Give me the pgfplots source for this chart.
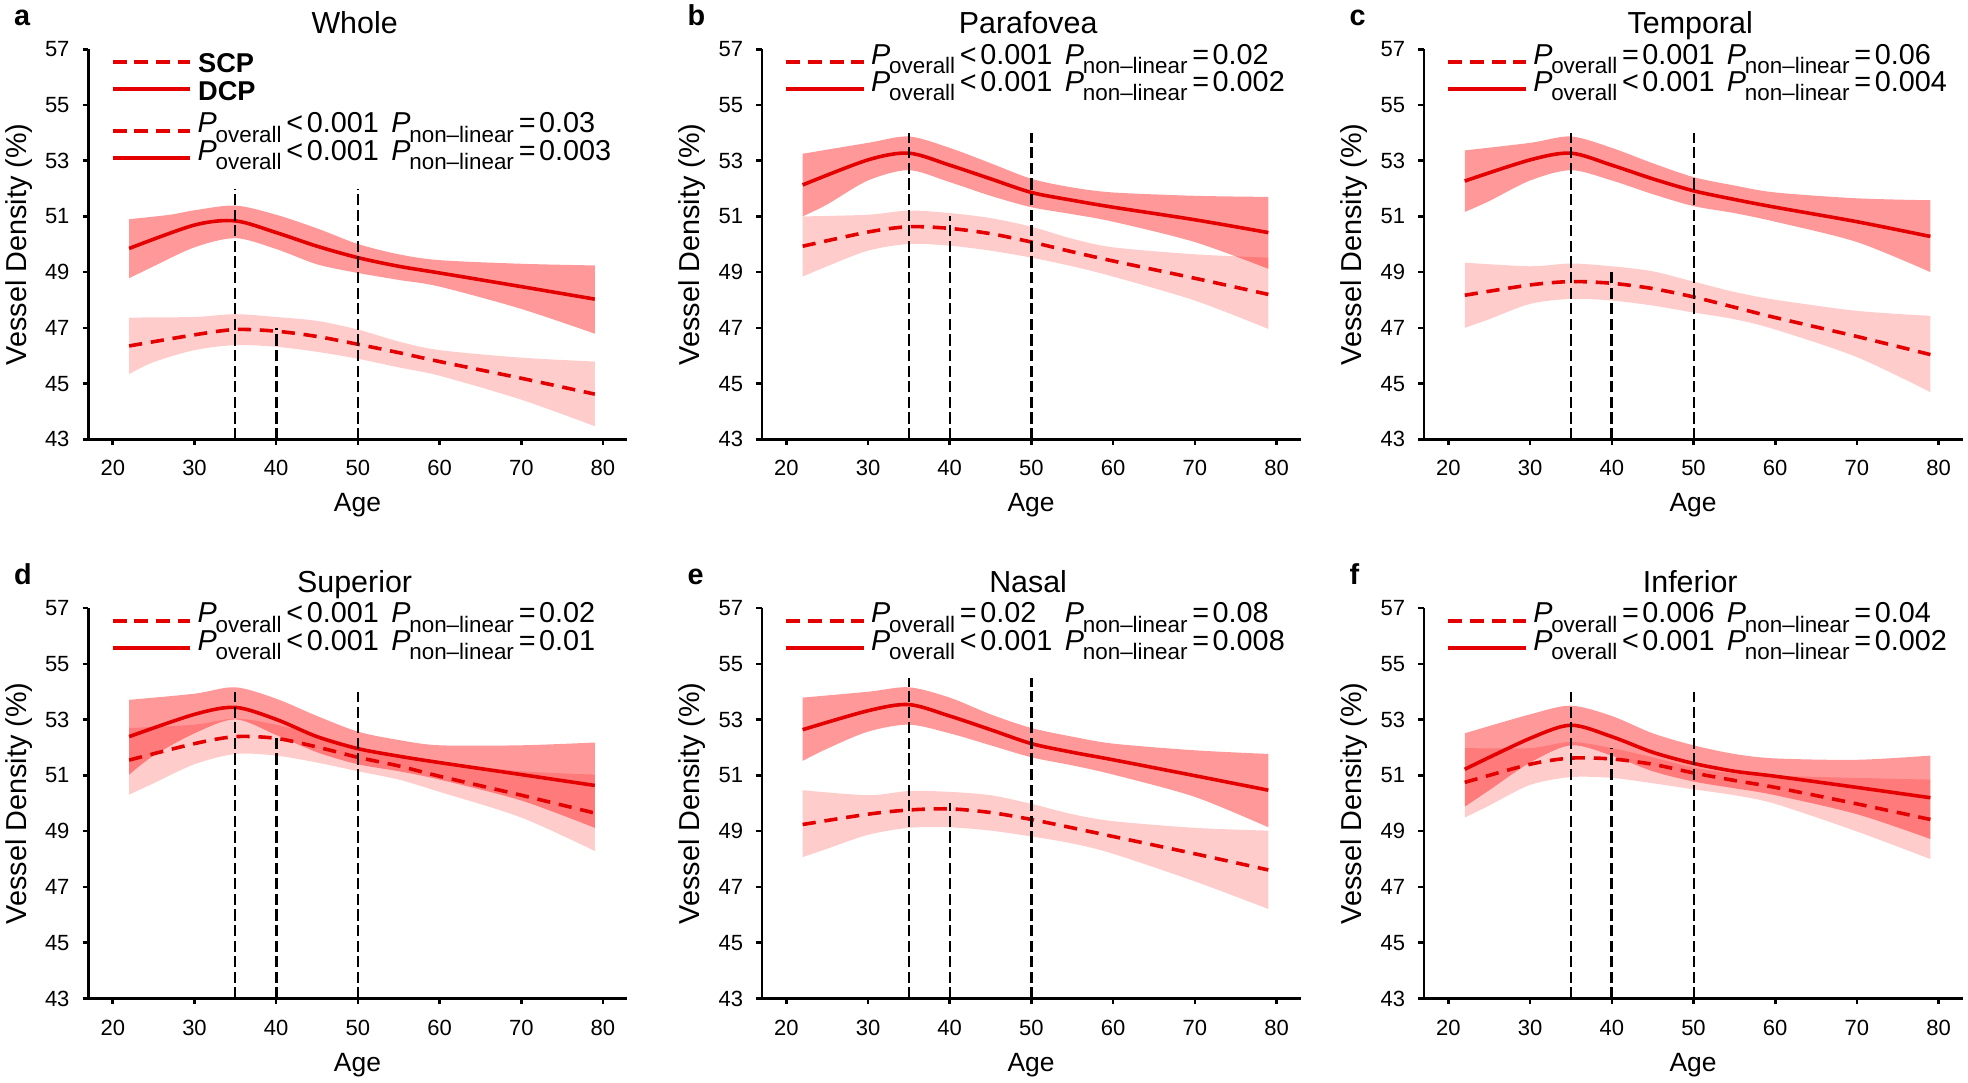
\documentclass[border=0pt]{standalone}
\usepackage{pgfplots}
\pgfplotsset{compat=1.18}
\usepgfplotslibrary{fillbetween}
\usepackage{fontspec}
\setmainfont{Liberation Sans}
\definecolor{vd}{RGB}{228,0,0}
\newcommand\lgfont{\fontsize{7.2}{8}\selectfont}
\newcommand\subs[1]{\kern-0.3pt\raisebox{-2.3pt}{\fontsize{5.6}{6}\selectfont #1}}
\newcommand\Po[2]{{\lgfont\textit{P}\subs{overall}\hspace{1.2pt}#1\hspace{0.9pt}#2}}
\newcommand\Pn[2]{{\lgfont\textit{P}\subs{non–linear}\hspace{1.2pt}#1\hspace{0.9pt}#2}}
\newcommand\lrow[4]{\draw[#2] (axis cs:20,#1) -- (axis cs:29.47,#1);
  \node[anchor=base west, inner sep=0pt] at (axis cs:30.29,#1-0.083) {#3};
  \node[anchor=base west, inner sep=0pt] at (axis cs:54.0,#1-0.083) {#4};}
\newcommand\deco[2]{% letter, title
  \node[anchor=base west, inner sep=0pt, font=\bfseries\fontsize{7.2}{8}\selectfont] at (axis cs:7.82,57.86) {#1};
  \node[anchor=base, inner sep=0pt, font=\fontsize{7.6}{9}\selectfont] at (axis cs:49.6,57.57) {#2};
  \node[anchor=base, inner sep=0pt, font=\fontsize{6.6}{7}\selectfont] at (axis cs:49.95,40.4) {Age};
  \node[anchor=base, rotate=90, inner sep=0pt, font=\fontsize{7.2}{8}\selectfont] at (axis cs:9.4,50) {Vessel Density (\%)};}
\pgfplotsset{
  panel/.style={
    scale only axis, width=134.8pt,
    xmin=17, xmax=83, ymin=43, ymax=57,
    axis x line*=bottom, axis y line*=left,
    axis line style={line width=0.65pt, -},
    xtick={20,30,...,80}, ytick={43,45,...,57},
    tick align=outside, major tick length=1.4pt,
    tick style={line width=0.65pt, black},
    tick label style={font=\fontsize{5.5}{6}\selectfont, inner sep=0pt},
    xticklabel style={anchor=north, yshift=-3.7pt},
    yticklabel style={anchor=east, xshift=-3.1pt},
    /pgf/number format/assume math mode=true,
    clip=false, anchor=south west,
  },
  bnd/.style={draw=none, mark=none, smooth},
  dcpf/.style={fill=red, fill opacity=0.4, draw=none},
  scpf/.style={fill=red, fill opacity=0.2, draw=none},
  dcpl/.style={vd, line width=0.9pt, mark=none, smooth},
  scpl/.style={vd, line width=0.9pt, mark=none, smooth, dash pattern=on 3.3pt off 2.2pt},
  vl/.style={black, line width=0.5pt, mark=none, dash pattern=on 2.8pt off 1.1pt},
  vlt/.style={black, line width=0.8pt, mark=none, dash pattern=on 2.8pt off 1.1pt},
}
\tikzset{
  ldash/.style={vd, line width=1pt, dash pattern=on 3.5pt off 1.9pt},
  lsolid/.style={vd, line width=1pt},
}
\begin{document}
\begin{tikzpicture}
% ---------------- a: Whole
\begin{axis}[panel, at={(22.07pt,160.68pt)}, height=97.5pt]
\addplot[bnd, name path=du] coordinates {(22,50.9)(27,51.06)(30,51.22)(35,51.39)(40,51.06)(45,50.57)(50,50.01)(55,49.64)(60,49.43)(70,49.30)(79,49.24)};
\addplot[bnd, name path=dl] coordinates {(22,48.78)(25,49.21)(30,49.89)(35,50.22)(40,49.83)(45,49.28)(50,48.97)(55,48.72)(60,48.48)(70,47.68)(79,46.79)};
\addplot[dcpf] fill between[of=du and dl];
\addplot[bnd, name path=su] coordinates {(22,47.37)(30,47.39)(35,47.49)(40,47.39)(45,47.25)(50,46.94)(55,46.51)(60,46.20)(70,45.93)(79,45.79)};
\addplot[bnd, name path=sl] coordinates {(22,45.34)(25,45.77)(30,46.20)(35,46.38)(40,46.32)(45,46.14)(50,45.89)(55,45.58)(60,45.28)(70,44.42)(79,43.47)};
\addplot[scpf] fill between[of=su and sl];
\addplot[dcpl] coordinates {(22,49.85)(30,50.69)(35,50.84)(40,50.42)(45,49.93)(50,49.52)(55,49.21)(60,48.97)(70,48.48)(79,48.03)};
\addplot[scpl] coordinates {(22,46.35)(30,46.75)(35,46.94)(40,46.88)(45,46.69)(50,46.41)(55,46.11)(60,45.79)(70,45.19)(79,44.62)};
\addplot[vl] coordinates {(35,43)(35,52)};
\addplot[vlt] coordinates {(40,43)(40,47)};
\addplot[vl] coordinates {(50,43)(50,52)};
\draw[ldash] (axis cs:20,56.55) -- (axis cs:29.47,56.55);
\node[anchor=base west, inner sep=0pt, font=\bfseries\fontsize{6.8}{8}\selectfont] at (axis cs:30.35,56.16) {SCP};
\draw[lsolid] (axis cs:20,55.56) -- (axis cs:29.47,55.56);
\node[anchor=base west, inner sep=0pt, font=\bfseries\fontsize{6.8}{8}\selectfont] at (axis cs:30.35,55.17) {DCP};
\lrow{54.08}{ldash}{\Po{<}{0.001}}{\Pn{=}{0.03}}
\lrow{53.09}{lsolid}{\Po{<}{0.001}}{\Pn{=}{0.003}}
\deco{a}{Whole}
\end{axis}
% ---------------- b: Parafovea
\begin{axis}[panel, at={(190.45pt,160.68pt)}, height=97.5pt]
\addplot[bnd, name path=du] coordinates {(22,53.25)(30,53.64)(35,53.87)(40,53.46)(45,52.91)(50,52.35)(55,52.04)(60,51.86)(70,51.74)(79,51.70)};
\addplot[bnd, name path=dl] coordinates {(22,51.0)(25,51.43)(30,52.29)(35,52.66)(40,52.23)(45,51.74)(50,51.33)(55,51.08)(60,50.81)(70,50.08)(79,49.12)};
\addplot[dcpf] fill between[of=du and dl];
\addplot[bnd, name path=su] coordinates {(22,51.0)(30,51.06)(35,51.21)(40,51.12)(45,50.94)(50,50.63)(55,50.20)(60,49.89)(70,49.64)(79,49.52)};
\addplot[bnd, name path=sl] coordinates {(22,48.84)(25,49.21)(30,49.77)(35,50.01)(40,49.95)(45,49.77)(50,49.52)(55,49.21)(60,48.84)(70,47.98)(79,46.96)};
\addplot[scpf] fill between[of=su and sl];
\addplot[dcpl] coordinates {(22,52.13)(30,53.03)(35,53.27)(40,52.84)(45,52.35)(50,51.86)(55,51.58)(60,51.33)(70,50.88)(79,50.42)};
\addplot[scpl] coordinates {(22,49.93)(30,50.44)(35,50.63)(40,50.57)(45,50.38)(50,50.08)(55,49.73)(60,49.40)(70,48.78)(79,48.20)};
\addplot[vl] coordinates {(35,43)(35,54)};
\addplot[vl] coordinates {(40,43)(40,51)};
\addplot[vlt] coordinates {(50,43)(50,54)};
\lrow{56.55}{ldash}{\Po{<}{0.001}}{\Pn{=}{0.02}}
\lrow{55.56}{lsolid}{\Po{<}{0.001}}{\Pn{=}{0.002}}
\deco{b}{Parafovea}
\end{axis}
% ---------------- c: Temporal
\begin{axis}[panel, at={(355.97pt,160.68pt)}, height=97.5pt]
\addplot[bnd, name path=du] coordinates {(22,53.37)(30,53.64)(35,53.87)(40,53.46)(45,52.91)(50,52.41)(55,52.11)(60,51.86)(70,51.65)(79,51.58)};
\addplot[bnd, name path=dl] coordinates {(22,51.16)(25,51.55)(30,52.29)(35,52.66)(40,52.29)(45,51.80)(50,51.37)(55,51.12)(60,50.81)(70,50.08)(79,49.0)};
\addplot[dcpf] fill between[of=du and dl];
\addplot[bnd, name path=su] coordinates {(22,49.34)(30,49.21)(35,49.31)(40,49.21)(45,49.03)(50,48.66)(55,48.29)(60,48.01)(70,47.61)(79,47.43)};
\addplot[bnd, name path=sl] coordinates {(22,47.0)(25,47.31)(30,47.86)(35,48.04)(40,47.98)(45,47.80)(50,47.55)(55,47.31)(60,46.94)(70,45.95)(79,44.69)};
\addplot[scpf] fill between[of=su and sl];
\addplot[dcpl] coordinates {(22,52.27)(30,53.03)(35,53.27)(40,52.84)(45,52.35)(50,51.92)(55,51.61)(60,51.33)(70,50.81)(79,50.28)};
\addplot[scpl] coordinates {(22,48.17)(30,48.54)(35,48.66)(40,48.60)(45,48.41)(50,48.11)(55,47.74)(60,47.37)(70,46.69)(79,46.04)};
\addplot[vl] coordinates {(35,43)(35,54)};
\addplot[vlt] coordinates {(40,43)(40,49)};
\addplot[vl] coordinates {(50,43)(50,54)};
\lrow{56.55}{ldash}{\Po{=}{0.001}}{\Pn{=}{0.06}}
\lrow{55.56}{lsolid}{\Po{<}{0.001}}{\Pn{=}{0.004}}
\deco{c}{Temporal}
\end{axis}
% ---------------- d: Superior
\begin{axis}[panel, at={(22.07pt,20.875pt)}, height=97.6pt]
\addplot[bnd, name path=du] coordinates {(22,53.71)(30,53.93)(35,54.16)(40,53.75)(45,53.13)(50,52.57)(55,52.27)(60,52.08)(70,52.08)(79,52.18)};
\addplot[bnd, name path=dl] coordinates {(22,51.03)(25,51.71)(30,52.51)(35,53.01)(40,52.45)(45,51.83)(50,51.40)(55,51.15)(60,50.85)(70,50.10)(79,49.12)};
\addplot[dcpf] fill between[of=du and dl];
\addplot[bnd, name path=su] coordinates {(22,52.70)(30,52.82)(35,53.04)(40,52.82)(45,52.45)(50,52.02)(55,51.65)(60,51.46)(70,51.15)(79,51.03)};
\addplot[bnd, name path=sl] coordinates {(22,50.31)(25,50.72)(30,51.40)(35,51.77)(40,51.71)(45,51.46)(50,51.15)(55,50.85)(60,50.41)(70,49.49)(79,48.29)};
\addplot[scpf] fill between[of=su and sl];
\addplot[dcpl] coordinates {(22,52.39)(30,53.19)(35,53.44)(40,53.01)(45,52.39)(50,51.96)(55,51.69)(60,51.46)(70,51.03)(79,50.64)};
\addplot[scpl] coordinates {(22,51.55)(30,52.14)(35,52.39)(40,52.33)(45,52.02)(50,51.65)(55,51.34)(60,50.97)(70,50.29)(79,49.65)};
\addplot[vl] coordinates {(35,43)(35,54)};
\addplot[vlt] coordinates {(40,43)(40,52.4)};
\addplot[vl] coordinates {(50,43)(50,54)};
\lrow{56.55}{ldash}{\Po{<}{0.001}}{\Pn{=}{0.02}}
\lrow{55.56}{lsolid}{\Po{<}{0.001}}{\Pn{=}{0.01}}
\deco{d}{Superior}
\end{axis}
% ---------------- e: Nasal
\begin{axis}[panel, at={(190.45pt,20.875pt)}, height=97.6pt]
\addplot[bnd, name path=du] coordinates {(22,53.79)(30,54.0)(35,54.16)(40,53.79)(45,53.19)(50,52.70)(55,52.39)(60,52.14)(70,51.90)(79,51.77)};
\addplot[bnd, name path=dl] coordinates {(22,51.52)(25,51.96)(30,52.57)(35,52.82)(40,52.51)(45,52.08)(50,51.65)(55,51.36)(60,51.03)(70,50.23)(79,49.14)};
\addplot[dcpf] fill between[of=du and dl];
\addplot[bnd, name path=su] coordinates {(22,50.47)(30,50.29)(35,50.44)(40,50.41)(45,50.29)(50,49.98)(55,49.61)(60,49.36)(70,49.12)(79,49.02)};
\addplot[bnd, name path=sl] coordinates {(22,48.07)(25,48.37)(30,48.87)(35,49.12)(40,49.14)(45,49.02)(50,48.81)(55,48.56)(60,48.19)(70,47.20)(79,46.21)};
\addplot[scpf] fill between[of=su and sl];
\addplot[dcpl] coordinates {(22,52.64)(30,53.32)(35,53.54)(40,53.13)(45,52.64)(50,52.14)(55,51.83)(60,51.56)(70,50.99)(79,50.47)};
\addplot[scpl] coordinates {(22,49.24)(30,49.61)(35,49.76)(40,49.80)(45,49.67)(50,49.42)(55,49.12)(60,48.81)(70,48.19)(79,47.61)};
\addplot[vl] coordinates {(35,43)(35,54.5)};
\addplot[vl] coordinates {(40,43)(40,50)};
\addplot[vlt] coordinates {(50,43)(50,54.5)};
\lrow{56.55}{ldash}{\Po{=}{0.02}}{\Pn{=}{0.08}}
\lrow{55.56}{lsolid}{\Po{<}{0.001}}{\Pn{=}{0.008}}
\deco{e}{Nasal}
\end{axis}
% ---------------- f: Inferior
\begin{axis}[panel, at={(355.97pt,20.875pt)}, height=97.6pt]
\addplot[bnd, name path=du] coordinates {(22,52.51)(30,53.19)(35,53.50)(40,53.13)(45,52.51)(50,52.08)(55,51.77)(60,51.61)(70,51.56)(79,51.71)};
\addplot[bnd, name path=dl] coordinates {(22,49.88)(25,50.47)(30,51.46)(35,52.08)(40,51.71)(45,51.15)(50,50.78)(55,50.54)(60,50.29)(70,49.61)(79,48.72)};
\addplot[dcpf] fill between[of=du and dl];
\addplot[bnd, name path=su] coordinates {(22,51.98)(30,51.98)(35,52.20)(40,51.98)(45,51.65)(50,51.28)(55,51.07)(60,50.99)(70,50.91)(79,50.85)};
\addplot[bnd, name path=sl] coordinates {(22,49.49)(25,49.92)(30,50.66)(35,50.94)(40,50.91)(45,50.72)(50,50.50)(55,50.29)(60,49.98)(70,48.99)(79,48.00)};
\addplot[scpf] fill between[of=su and sl];
\addplot[dcpl] coordinates {(22,51.22)(30,52.33)(35,52.80)(40,52.39)(45,51.83)(50,51.43)(55,51.15)(60,50.97)(70,50.57)(79,50.20)};
\addplot[scpl] coordinates {(22,50.75)(30,51.40)(35,51.62)(40,51.59)(45,51.40)(50,51.09)(55,50.82)(60,50.57)(70,49.98)(79,49.42)};
\addplot[vl] coordinates {(35,43)(35,54)};
\addplot[vlt] coordinates {(40,43)(40,52)};
\addplot[vl] coordinates {(50,43)(50,54)};
\lrow{56.55}{ldash}{\Po{=}{0.006}}{\Pn{=}{0.04}}
\lrow{55.56}{lsolid}{\Po{<}{0.001}}{\Pn{=}{0.002}}
\deco{f}{Inferior}
\end{axis}
\pgfresetboundingbox
\useasboundingbox (0,0) rectangle (492pt,270.5pt);
\end{tikzpicture}
\end{document}
